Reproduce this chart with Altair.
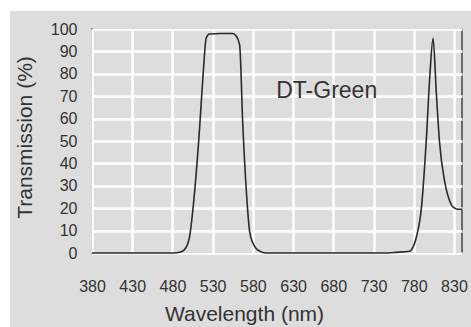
import altair as alt
import pandas as pd

# Transmission curve
wavelength = [380, 470, 482, 489, 495, 501, 507.5, 514, 518, 522, 526, 540, 555, 559, 563.5,
              567.5, 572, 576, 580, 584, 590, 597, 650, 740, 758, 775, 779, 783, 789.5,
              795.5, 800, 804, 808, 812, 818.5, 823, 827, 831, 835, 840]
transmission = [0, 0, 0, 0.3, 1.5, 6.7, 27, 57, 79, 96, 97.8, 98, 98, 97, 93,
                57, 27, 9.5, 4.5, 2, 0.6, 0, 0, 0, 0.3, 0.8, 2.5, 6.7, 20,
                49.7, 79, 95.8, 72, 49.7, 31.8, 25, 21.4, 20, 19.5, 19.5]

x_ticks = [380, 430, 480, 530, 580, 630, 680, 730, 780, 830]
y_ticks = [0, 10, 20, 30, 40, 50, 60, 70, 80, 90, 100]

label_text = ["DT-Green"]
label_x = [609]
label_y = [69]

FONT = "Liberation Sans"
TEXT = "#333333"

df = pd.DataFrame({"wl": wavelength, "t": transmission})
lab = pd.DataFrame({"label": label_text, "x": label_x, "y": label_y})

xs = alt.Scale(domain=[380, 840], nice=False, zero=False)
ys = alt.Scale(domain=[0, 100], nice=False, zero=True)

common = dict(grid=True, gridColor="white", gridWidth=2.5, ticks=False, tickSize=0,
              domain=False, labelFont=FONT, labelFontSize=16, labelColor=TEXT,
              labelOverlap=False, labelFlush=False, labelBound=False,
              titleFont=FONT, titleFontSize=21, titleFontWeight="normal", titleColor=TEXT,
              titleBaseline="alphabetic", titleAlign="center")

x_axis = alt.Axis(values=x_ticks, title="Wavelength (nm)", labelPadding=25,
                  titleX=152, titleY=67, **common)
y_axis = alt.Axis(values=y_ticks, tickCount=11, title="Transmission (%)", labelPadding=15,
                  titleX=-61, titleY=108, titleAngle=270, **common)

line = alt.Chart(df).mark_line(color="#2a2a2a", strokeWidth=1.6, interpolate="monotone").encode(
    x=alt.X("wl:Q", scale=xs, axis=x_axis),
    y=alt.Y("t:Q", scale=ys, axis=y_axis),
)

text = alt.Chart(lab).mark_text(align="left", baseline="alphabetic", font=FONT,
                                fontSize=23, color=TEXT).encode(
    x=alt.X("x:Q", scale=xs, axis=x_axis),
    y=alt.Y("y:Q", scale=ys, axis=y_axis),
    text="label:N",
)

# white page margin above and to the left of the grey panel
strip = pd.DataFrame({"k": [0]})
top_strip = alt.Chart(strip).mark_rect(color="white").encode(
    x=alt.value(-93), x2=alt.value(380), y=alt.value(-30), y2=alt.value(-18))
left_strip = alt.Chart(strip).mark_rect(color="white").encode(
    x=alt.value(-93), x2=alt.value(-82), y=alt.value(-30), y2=alt.value(300))

chart = alt.layer(top_strip, left_strip, line, text).properties(
    width=370, height=224, background="#dddddd",
    autosize=alt.AutoSizeParams(type="none"),
    padding={"left": 92, "top": 29, "right": 9, "bottom": 74},
).configure_view(stroke="#444444", strokeWidth=1.5)

chart.save("out.html", embed_options={"renderer": "svg", "actions": False})
